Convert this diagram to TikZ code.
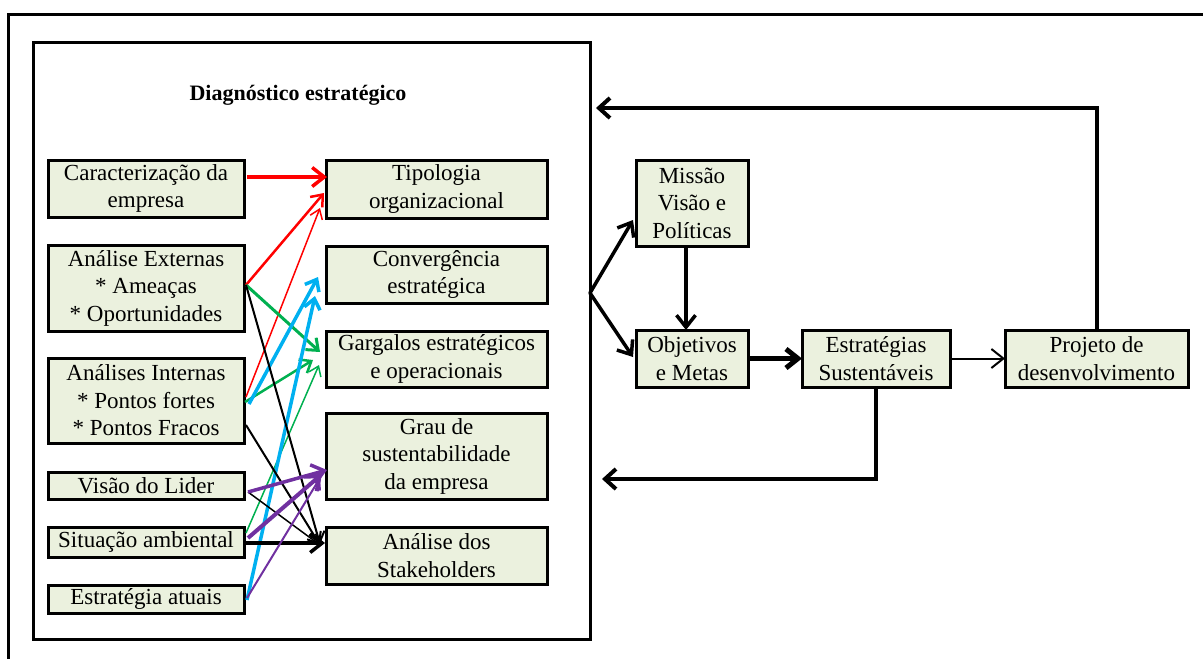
\documentclass[tikz,border=0pt]{standalone}
\usepackage{fontspec}
\setmainfont{Liberation Serif}
\usetikzlibrary{arrows.meta,calc}
\definecolor{boxfill}{RGB}{235,241,222}
\definecolor{cred}{RGB}{255,0,0}
\definecolor{cgreen}{RGB}{0,176,80}
\definecolor{cblue}{RGB}{0,176,240}
\definecolor{cpurple}{RGB}{112,48,160}
\begin{document}
\begin{tikzpicture}[x=1pt,y=-1pt,
  box/.style={draw, line width=3pt, fill=boxfill, rectangle, inner sep=0pt,
    outer sep=0pt, align=center, font=\fontsize{23}{27.5}\selectfont},
  leftbox/.style={box, minimum width=196pt},
  midbox/.style={box, minimum width=221pt},
  bigtip/.style={-{Straight Barb[length=12pt,width=19pt]}},
  midtip/.style={-{Straight Barb[length=10pt,width=16pt]}},
  smalltip/.style={-{Straight Barb[length=9pt,width=13pt]}},
  flow/.style={line width=3.5pt, bigtip},
  back/.style={line width=4pt, -{Straight Barb[length=11pt,width=20pt]}}
]
\useasboundingbox (0,0) rectangle (1203,659);

% open outer frame (top and left edges only)
\draw[line width=3pt] (8,659) -- (8,14.5) -- (1203,14.5);

% frame of the diagnosis block
\node[draw, line width=3pt, rectangle, inner sep=0pt, outer sep=0pt,
      minimum width=557pt, minimum height=597pt] (diag) at (311.5,340.5) {};
\node[font=\fontsize{22}{26}\selectfont\bfseries] (title) at (298,95) {Diagnóstico estratégico};

% inputs of the diagnosis
\node[leftbox, minimum height=57pt] (car) at (146,188.5) {Caracterização da\\empresa};
\node[leftbox, minimum height=86pt] (ext) at (146,288) {Análise Externas\\* Ameaças\\* Oportunidades};
\node[leftbox, minimum height=85pt] (int) at (146,400.5) {Análises Internas\\* Pontos fortes\\* Pontos Fracos};
\node[leftbox, minimum height=27pt] (vis) at (146,485.5) {Visão do Lider};
\node[leftbox, minimum height=30pt] (sit) at (146,542) {Situação ambiental};
\node[leftbox, minimum height=28pt] (est) at (146,599) {Estratégia atuais};

% results of the diagnosis
\node[midbox, minimum height=58pt] (tip) at (436.5,189) {Tipologia\\organizacional};
\node[midbox, minimum height=57pt] (conv) at (436.5,274.5) {Convergência\\estratégica};
\node[midbox, minimum height=56pt] (garg) at (436.5,359) {Gargalos estratégicos\\e operacionais};
\node[midbox, minimum height=86pt] (grau) at (436.5,456) {Grau de\\sustentabilidade\\da empresa};
\node[midbox, minimum height=57pt] (stak) at (436.5,555.5) {Análise dos\\Stakeholders};

% planning chain
\node[box, minimum width=112pt, minimum height=86pt] (mis) at (692,203) {Missão\\Visão e\\Políticas};
\node[box, minimum width=112pt, minimum height=57pt] (obj) at (692,358.5) {Objetivos\\e Metas};
\node[box, minimum width=148pt, minimum height=57pt] (estr) at (876,358.5) {Estratégias\\Sustentáveis};
\node[box, minimum width=183pt, minimum height=57pt] (proj) at (1096.5,358.5) {Projeto de\\desenvolvimento};

% red links
\draw[cred, line width=3.5pt, bigtip] ($(car.east)+(3,-11.5)$) -- ($(tip.west)+(1,-12)$);
\draw[cred, line width=2.5pt, midtip] ($(ext.east)+(2,-3)$) -- ($(tip.west)+(-2,4)$);
\draw[cred, line width=1.5pt, smalltip] ($(int.east)+(2,-3.5)$) -- ($(tip.west)+(-6,19)$);

% green links
\draw[cgreen, line width=3pt, midtip] ($(ext.east)+(2,-3)$) -- ($(garg.west)+(-6,-7)$);
\draw[cgreen, line width=2.5pt, midtip] ($(int.east)+(1,1.5)$) -- ($(garg.west)+(-13,1)$);
\draw[cgreen, line width=1.5pt, smalltip] ($(sit.east)+(2,-9)$) -- ($(garg.west)+(-7,6)$);

% blue links
\draw[cblue, line width=3.5pt, midtip] ($(int.east)+(5,3.5)$) -- ($(conv.west)+(-8,2.5)$);
\draw[cblue, line width=3.5pt, midtip] ($(est.east)+(3,1)$) -- ($(conv.west)+(-11,21.5)$);

% black links
\draw[black, line width=2pt, midtip] ($(ext.east)+(2,-3)$) -- ($(stak.west)+(-6,-11.5)$);
\draw[black, line width=2pt, midtip] ($(int.east)+(2,24.5)$) -- ($(stak.west)+(-6,-10.5)$);
\draw[black, line width=1.5pt, smalltip] ($(vis.east)+(4,6.5)$) -- ($(stak.west)+(-6,-10.5)$);
\draw[black, line width=3.5pt, bigtip] ($(sit.east)+(2,1)$) -- ($(stak.west)+(-1,-12.5)$);

% purple links
\draw[cpurple, line width=3.5pt, bigtip] ($(vis.east)+(4,6.5)$) -- ($(grau.west)+(1,14)$);
\draw[cpurple, line width=4pt, bigtip] ($(sit.east)+(4,-4)$) -- ($(grau.west)+(-4,18)$);
\draw[cpurple, line width=2pt, smalltip] ($(est.east)+(3,-1)$) -- ($(grau.west)+(-6,22)$);

% diagnosis feeds mission and objectives
\coordinate (fork) at ($(diag.east)+(0,-47.5)$);
\draw[flow, line cap=round] (fork) -- ($(mis.west)+(-3,17)$);
\draw[flow, line cap=round] (fork) -- ($(obj.west)+(-3,-1.5)$);
\draw[flow] ($(mis.south)+(-6,0)$) -- ($(obj.north)+(-6,0)$);
\draw[line width=5pt, bigtip] (obj.east) -- (estr.west);
\draw[line width=2pt, bigtip] (estr.east) -- (proj.west);

% feedback loops
\coordinate (topy) at (0,108);
\coordinate (boty) at (0,479);
\draw[back] (proj.north) -- (proj.north |- topy) -- ($(diag.east |- topy)+(6,0)$);
\draw[back] (estr.south) -- (estr.south |- boty) -- ($(diag.east |- boty)+(12,0)$);
\end{tikzpicture}
\end{document}
